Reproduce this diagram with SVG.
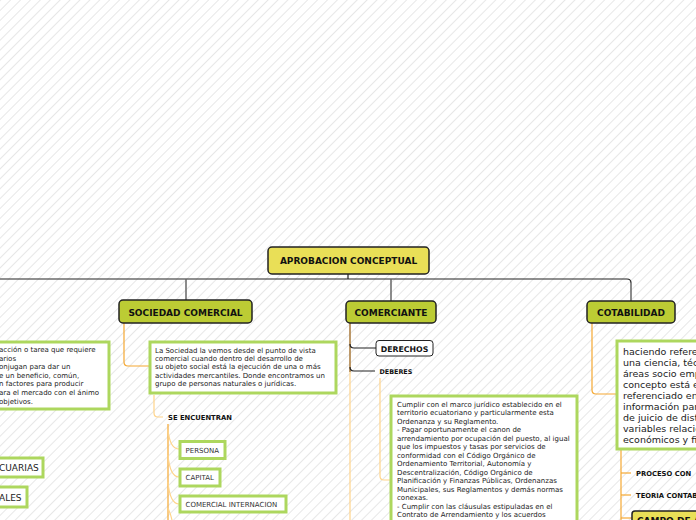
<svg xmlns="http://www.w3.org/2000/svg" width="696" height="520" viewBox="0 0 696 520">
<defs>
<pattern id="hatch" patternUnits="userSpaceOnUse" width="7" height="7" patternTransform="rotate(45)">
<rect width="7" height="7" fill="#ffffff"/>
<line x1="0.5" y1="0" x2="0.5" y2="7" stroke="#e7e7e7" stroke-width="1"/>
</pattern>
<clipPath id="view"><rect width="696" height="520"/></clipPath>
<style>
text{font-family:"DejaVu Sans","Liberation Sans",sans-serif;fill:#111}
.root{fill:#E9DF57;stroke:#222;stroke-width:1.5}
.main{fill:#BCCC34;stroke:#222;stroke-width:1.5}
.gbox{fill:#ffffff;stroke:#ADD75E;stroke-width:3}
.hb{font-weight:bold;font-size:9px;text-anchor:middle}
.body{font-size:7px;fill:#222}
.sm{font-size:7px;fill:#333}
.lbl{font-weight:bold;font-size:6.8px}
.big{font-size:9.5px;fill:#222}
.blk{fill:none;stroke:#222;stroke-width:1.2}
.gry{fill:none;stroke:#666;stroke-width:1.5}
.org{fill:none;stroke:#F5A833;stroke-width:1.2}
.lor{fill:none;stroke:#FFD48A;stroke-width:1.2}
</style>
</defs>
<rect width="696" height="520" fill="url(#hatch)"/>

<g id="connectors">
<path class="blk" d="M348 274 V279"/>
<path class="blk" d="M0 279 H627 Q631 279 631 283"/>
<path class="gry" d="M186 279 V300"/>
<path class="gry" d="M391 279 V301"/>
<path class="gry" d="M631 283 V301"/>
<path class="org" d="M124 323 V362 Q124 366 128 366 H149"/>
<path class="lor" d="M154 395 V413 Q154 417 158 417 H163"/>
<path class="org" d="M168 424 V520"/>
<path class="lor" d="M168 430 Q170 449 179 449"/>
<path class="lor" d="M168 455 Q170 477 179 477"/>
<path class="lor" d="M168 482 Q170 504 179 504"/>
<path class="lor" d="M168 508 Q171 515 172 520"/>
<path fill="none" stroke="#A9783A" stroke-width="1.5" d="M350 323 V372"/>
<path class="lor" d="M350 372 V520"/>
<path class="blk" d="M350 344 Q350 348 354 348 H376"/>
<path class="blk" d="M350 367 Q350 371 354 371 H375"/>
<path class="lor" d="M380 378 V476 Q380 480 384 480 H390"/>
<path class="org" d="M592 323 V390 Q592 394 596 394 H616"/>
<path class="org" d="M621 450 V520"/>
<path class="org" d="M621 473 H631"/>
<path class="org" d="M621 495 H631"/>
<path class="org" d="M621 518 H632"/>
</g>

<g id="root">
<rect class="root" x="268" y="247" width="161" height="27" rx="4"/>
<text class="hb" x="348.5" y="264">APROBACION CONCEPTUAL</text>
</g>

<g id="sociedad-comercial">
<rect class="main" x="119" y="300" width="133" height="23" rx="4"/>
<text class="hb" x="185.5" y="315.5">SOCIEDAD COMERCIAL</text>
</g>

<g id="comerciante">
<rect class="main" x="346" y="301" width="90" height="22" rx="4"/>
<text class="hb" x="391" y="315.5">COMERCIANTE</text>
</g>

<g id="cotabilidad">
<rect class="main" x="587" y="301" width="88" height="22" rx="4"/>
<text class="hb" x="631" y="315.5">COTABILIDAD</text>
</g>

<g id="left-box" clip-path="url(#view)">
<rect class="gbox" x="-20" y="342" width="129" height="67"/>
<text class="body" x="-1" y="352">acción o tarea que requiere</text>
<text class="body" x="-1" y="360.6">arios</text>
<text class="body" x="-1" y="369.2">onjugan para dar un</text>
<text class="body" x="-1" y="377.8">e un beneficio, común,</text>
<text class="body" x="-1" y="386.4">n factores para producir</text>
<text class="body" x="-1" y="395">ara el mercado con el ánimo</text>
<text class="body" x="-1" y="403.6">objetivos.</text>
</g>

<g id="cuarias">
<rect class="gbox" x="-20" y="458" width="63" height="19"/>
<text class="big" x="-1" y="471" style="font-size:9px">CUARIAS</text>
</g>

<g id="ales">
<rect class="gbox" x="-20" y="487" width="47" height="20"/>
<text class="big" x="-1" y="500.5" style="font-size:9px">ALES</text>
</g>

<g id="sociedad-def">
<rect class="gbox" x="150" y="342" width="186" height="51"/>
<text class="body" x="155" y="353">La Sociedad la vemos desde el punto de vista</text>
<text class="body" x="155" y="361.2">comercial cuando dentro del desarrollo de</text>
<text class="body" x="155" y="369.4">su objeto social está la ejecución de una o más</text>
<text class="body" x="155" y="377.6">actividades mercantiles. Donde encontramos un</text>
<text class="body" x="155" y="385.8">grupo de personas naturales o jurídicas.</text>
</g>

<g id="se-encuentran">
<text class="lbl" x="168" y="420">SE ENCUENTRAN</text>
</g>

<g id="persona">
<rect class="gbox" x="180" y="441.5" width="45" height="17"/>
<text class="sm" x="185.5" y="452.5">PERSONA</text>
</g>

<g id="capital">
<rect class="gbox" x="180" y="469" width="40" height="17"/>
<text class="sm" x="185.5" y="480.3">CAPITAL</text>
</g>

<g id="comercial-internacion">
<rect class="gbox" x="180" y="496" width="106" height="16"/>
<text class="sm" x="185.5" y="507">COMERCIAL INTERNACION</text>
</g>

<g id="derechos">
<rect x="376" y="340.5" width="57" height="15.5" rx="3" fill="#fff" stroke="#222" stroke-width="1"/>
<text x="404.5" y="351.5" style="font-weight:bold;font-size:7.8px;text-anchor:middle">DERECHOS</text>
</g>

<g id="deberes">
<text class="lbl" x="379.5" y="373.5" style="font-size:6.4px">DEBERES</text>
</g>

<g id="deberes-def">
<rect class="gbox" x="391" y="396" width="186" height="140"/>
<text class="body" x="397" y="406.5">Cumplir con el marco jurídico establecido en el</text>
<text class="body" x="397" y="415">territorio ecuatoriano y particularmente esta</text>
<text class="body" x="397" y="423.5">Ordenanza y su Reglamento.</text>
<text class="body" x="397" y="432">- Pagar oportunamente el canon de</text>
<text class="body" x="397" y="440.5">arrendamiento por ocupación del puesto, al igual</text>
<text class="body" x="397" y="449">que los impuestos y tasas por servicios de</text>
<text class="body" x="397" y="457.5">conformidad con el Código Orgánico de</text>
<text class="body" x="397" y="466">Ordenamiento Territorial, Autonomía y</text>
<text class="body" x="397" y="474.5">Descentralización, Código Orgánico de</text>
<text class="body" x="397" y="483">Planificación y Finanzas Públicas, Ordenanzas</text>
<text class="body" x="397" y="491.5">Municipales, sus Reglamentos y demás normas</text>
<text class="body" x="397" y="500">conexas.</text>
<text class="body" x="397" y="508.5">- Cumplir con las cláusulas estipuladas en el</text>
<text class="body" x="397" y="517">Contrato de Arrendamiento y los acuerdos</text>
</g>

<g id="cotabilidad-def">
<rect class="gbox" x="617" y="341" width="100" height="108"/>
<text class="big" x="623" y="355">haciendo referen</text>
<text class="big" x="623" y="366">una ciencia, técn</text>
<text class="big" x="623" y="377">áreas socio emp</text>
<text class="big" x="623" y="388">concepto está en</text>
<text class="big" x="623" y="399">referenciado en</text>
<text class="big" x="623" y="410">información para</text>
<text class="big" x="623" y="421">de juicio de disti</text>
<text class="big" x="623" y="432">variables relacio</text>
<text class="big" x="623" y="443">económicos y fin</text>
</g>

<g id="proceso">
<text class="lbl" x="636" y="476">PROCESO CON</text>
</g>

<g id="teoria">
<text class="lbl" x="636" y="498">TEORIA CONTAB</text>
</g>

<g id="campo">
<rect class="root" x="632" y="511" width="80" height="20" rx="3"/>
<text x="637" y="524" style="font-weight:bold;font-size:9px">CAMPO DE A</text>
</g>
</svg>
